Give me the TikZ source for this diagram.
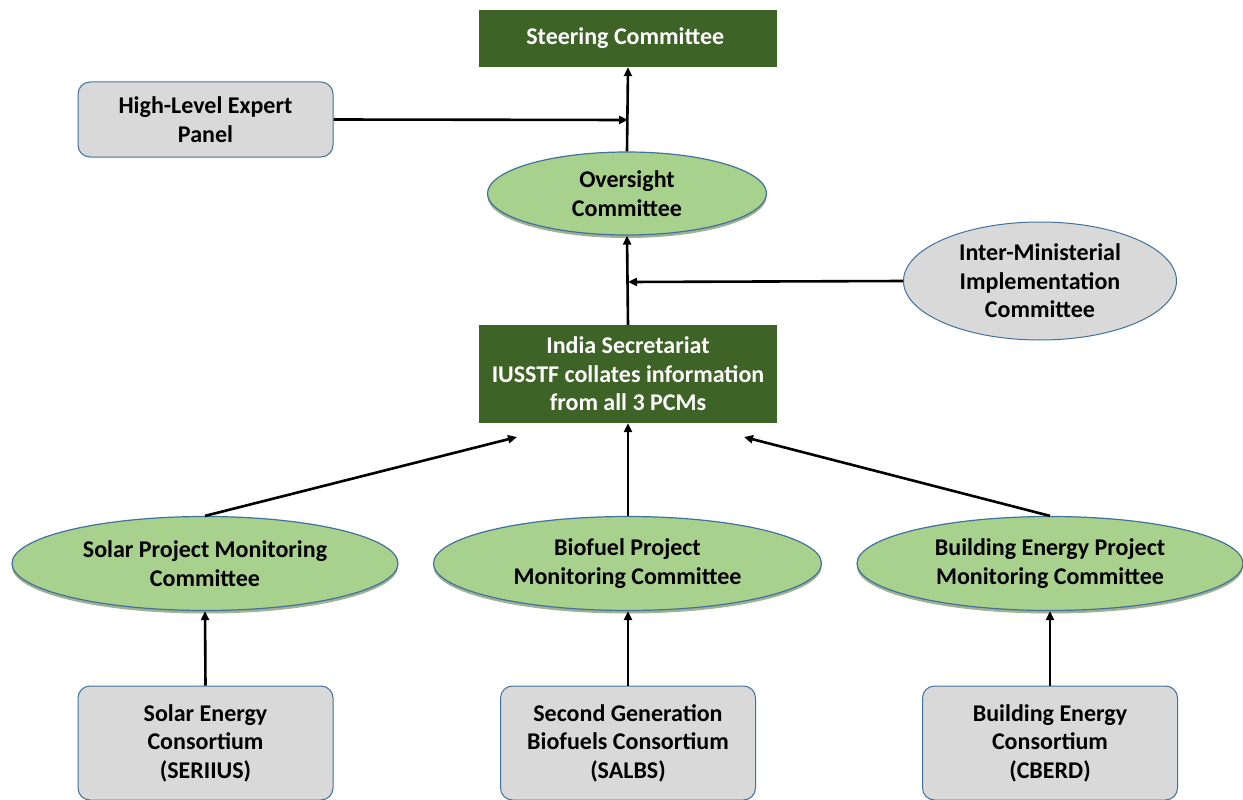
\documentclass[tikz,border=0pt]{standalone}
\usepackage{fontspec}
\setmainfont{Carlito}
\usepackage{tikz}
\usetikzlibrary{shapes.geometric,arrows.meta,shadows}
\definecolor{darkgreen}{RGB}{62,99,38}
\definecolor{lightgreen}{RGB}{169,209,142}
\definecolor{lightgray}{RGB}{217,217,217}
\definecolor{edgeblue}{RGB}{65,113,156}

\begin{document}
\begin{tikzpicture}[x=1pt, y=-1pt,
	font=\fontsize{24}{28.5}\selectfont\bfseries,
	darkbox/.style={rectangle, fill=darkgreen, text=white, align=center, inner sep=0pt},
	graybox/.style={rectangle, rounded corners=12pt, draw=edgeblue, line width=1pt, fill=lightgray, align=center, inner sep=0pt, minimum width=255pt},
	greenoval/.style={ellipse, draw=edgeblue, line width=1.2pt, fill=lightgreen, align=center, inner xsep=-50pt, inner ysep=0pt, drop shadow={shadow xshift=0pt, shadow yshift=-3pt, fill=darkgreen, opacity=0.5}},
	grayoval/.style={ellipse, draw=edgeblue, line width=1pt, fill=lightgray, align=center, inner xsep=-40pt, inner ysep=-5pt},
	link/.style={line width=2.6pt, -{Triangle[length=9pt,width=8pt]}}]
	\useasboundingbox (0,0) rectangle (1243,800);
	\node [darkbox, minimum width=298pt, minimum height=57pt] (1) at (628,38.5) { Steering Committee };
	\node [graybox, minimum height=75pt] (2) at (205.5,119.5) { High-Level Expert\\ Panel };
	\node [greenoval, minimum width=279pt, minimum height=83pt] (3) at (627,193.5) { Oversight\\ Committee };
	\node [grayoval, minimum width=273pt, minimum height=118pt] (4) at (1040,281) { Inter-Ministerial\\ Implementation\\ Committee };
	\node [darkbox, minimum width=298pt, minimum height=98pt] (5) at (628,374) { India Secretariat\\ IUSSTF collates information\\ from all 3 PCMs };
	\node [greenoval, minimum width=386pt, minimum height=94pt] (6) at (205,563.5) { Solar Project Monitoring\\ Committee };
	\node [greenoval, minimum width=388pt, minimum height=94pt] (7) at (627.5,563.5) { Biofuel Project\\ Monitoring Committee };
	\node [greenoval, minimum width=386pt, minimum height=94pt] (8) at (1050,563.5) { Building Energy Project\\ Monitoring Committee };
	\node [graybox, minimum height=114pt] (9) at (205.5,743) { Solar Energy\\ Consortium\\ (SERIIUS) };
	\node [graybox, minimum height=114pt] (10) at (628,743) { Second Generation\\ Biofuels Consortium\\ (SALBS) };
	\node [graybox, minimum height=114pt] (11) at (1050,743) { Building Energy\\ Consortium\\ (CBERD) };
	\coordinate (a) at (628,120);
	\coordinate (b) at (628,282);
	\coordinate (c) at (517,437);
	\coordinate (d) at (744,437);
	\draw [link]
	  (3.north) to
	  (1.south);
	\draw [link]
	  (2.east) to
	  (a);
	\draw [link]
	  (5.north) to
	  (3.south);
	\draw [link]
	  (4.west) to
	  (b);
	\draw [link]
	  (6.north) to
	  (c);
	\draw [link]
	  (7.north -| 5.south) to
	  (5.south);
	\draw [link]
	  (8.north) to
	  (d);
	\draw [link]
	  (9.north) to
	  (6.south);
	\draw [link]
	  (10.north) to
	  (10.north |- 7.south);
	\draw [link]
	  (11.north) to
	  (8.south);
\end{tikzpicture}
\end{document}
